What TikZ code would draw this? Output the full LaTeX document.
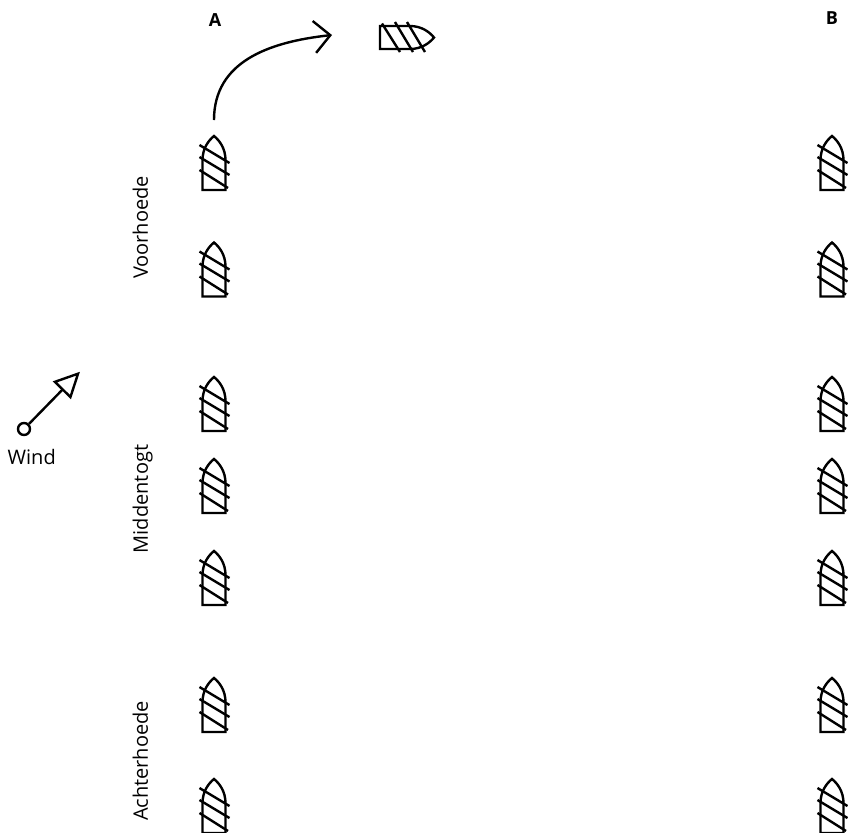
\documentclass[tikz,border=0pt]{standalone}
\usepackage{fontspec}
\setmainfont{Open Sans}
\usetikzlibrary{positioning, arrows.meta}

\begin{document}
\begin{tikzpicture}[x=0.5pt, y=-0.5pt]


\tikzstyle{hull_style} = [draw=black, line width=1.2pt]

\tikzstyle{label_style} = [inner sep=0pt, font=\fontsize{10}{12}\selectfont]

\tikzstyle{column_style} = [inner sep=0pt, font=\fontsize{9}{11}\selectfont\bfseries]

\tikzstyle{move_style} = [draw=black, line width=1.2pt, -{Straight Barb[length=8pt, width=16pt]}]

\tikzstyle{wind_style} = [draw=black, line width=1.2pt, -{Triangle[open, length=13pt, width=12.5pt]}]

\tikzset{ship/.pic={
  \draw[hull_style] (-11.5,0) -- (-11.5,-30) .. controls (-11.5,-42) and (-5,-50) .. (0,-54)
    .. controls (5,-50) and (11.5,-42) .. (11.5,-30) -- (11.5,0) -- cycle;
  \draw[hull_style] (-14.5,-45) -- (15.5,-27);
  \draw[hull_style] (-14.5,-33) -- (15.5,-15);
  \draw[hull_style] (-14.5,-20) -- (14,-2);
}}

\useasboundingbox (0,0) rectangle (848,832);

\node[column_style] (colA) at (215, 20) {A};
\node[column_style] (colB) at (832, 18) {B};

\node[label_style, rotate=90, anchor=base] (voorhoede) at (148, 227.5) {Voorhoede};
\node[label_style, rotate=90, anchor=base] (middentogt) at (148, 499) {Middentogt};
\node[label_style, rotate=90, anchor=base] (achterhoede) at (148, 761) {Achterhoede};

\pic (a0) at (214, 190) {ship};
\pic (a1) at (214, 296.5) {ship};
\pic (a2) at (214, 431) {ship};
\pic (a3) at (214, 513) {ship};
\pic (a4) at (214, 605) {ship};
\pic (a5) at (214, 732) {ship};
\pic (a6) at (214, 833) {ship};

\pic (b0) at (832, 190) {ship};
\pic (b1) at (832, 296.5) {ship};
\pic (b2) at (832, 431) {ship};
\pic (b3) at (832, 513) {ship};
\pic (b4) at (832, 605) {ship};
\pic (b5) at (832, 732) {ship};
\pic (b6) at (832, 833) {ship};

\pic[rotate=-90, xscale=-1] (turned) at (380, 37.5) {ship};

\coordinate (turn_from) at (214, 120);
\coordinate (turn_to) at (332, 35);
\draw[move_style] (turn_from) .. controls (214, 62) and (268, 42) .. (turn_to);

\node[draw, circle, line width=1.2pt, minimum size=6pt, inner sep=0pt] (wind_foot) at (24, 429) {};
\coordinate (wind_tip) at (80, 371.7);
\draw[wind_style] (wind_foot) -- (wind_tip);
\node[label_style] (wind) at (31.7, 457) {Wind};


\end{tikzpicture}
\end{document}
